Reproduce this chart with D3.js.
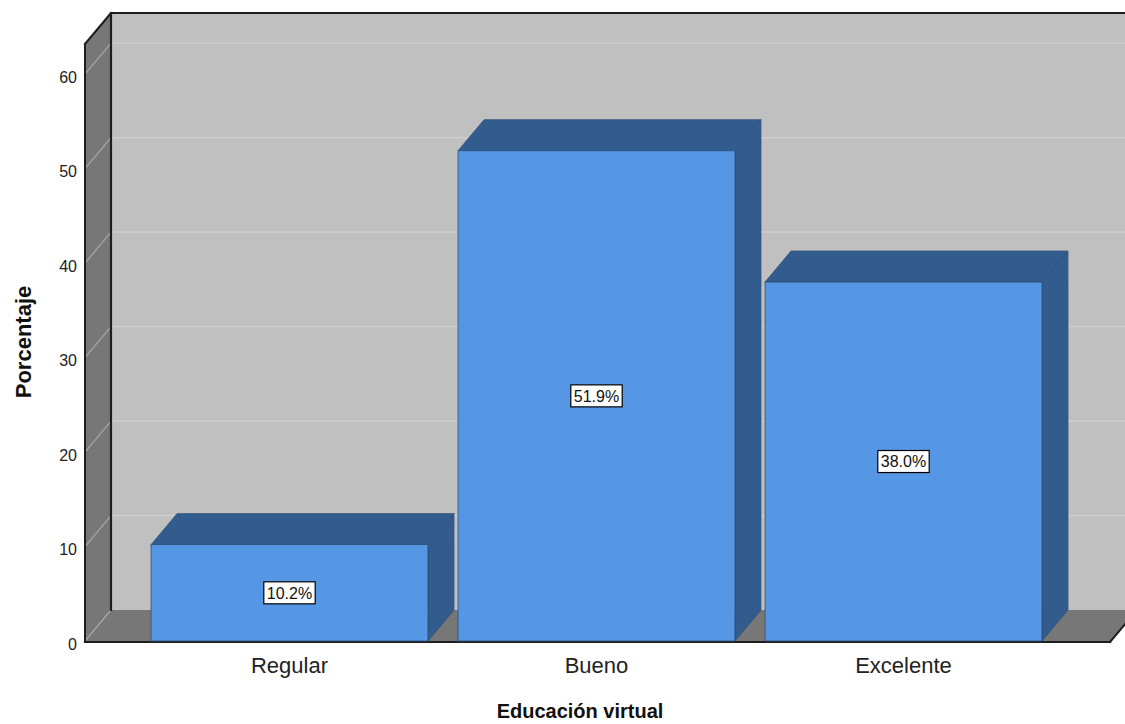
<!DOCTYPE html>
<html>
<head>
<meta charset="utf-8">
<script src="https://cdn.jsdelivr.net/npm/d3@7/dist/d3.min.js"></script>
<style>
  html, body { margin: 0; padding: 0; background: #fff; }
  svg { display: block; font-family: Arial, "Liberation Sans", sans-serif; }
</style>
</head>
<body>
<svg id="chart" width="1125" height="724"></svg>
<script>
// Educación virtual — percentage of respondents per rating
const categories = ["Regular", "Bueno", "Excelente"];
const percentages = [10.2, 51.9, 38.0];
const tickValues = [0, 10, 20, 30, 40, 50, 60];
const axisTitleY = "Porcentaje";
const axisTitleX = "Educación virtual";

const svg = d3.select("#chart");

// front plane of the 3D box, and the depth offset of the back plane
const frontLeft = 85, frontRight = 1110, frontBottom = 641;
const depthX = 26, depthY = -31;

const y = d3.scaleLinear().domain([0, 63.2]).range([frontBottom, 44]);
const x = d3.scaleBand().domain(categories)
  .range([136, 1057]).paddingInner(0.098).paddingOuter(0.049);

const plotTop = y.range()[1];
const backLeft = frontLeft + depthX, backTop = plotTop + depthY, backBottom = frontBottom + depthY;
const backRight = frontRight + depthX;

const pts = a => a.map(p => p.join(",")).join(" ");

// back wall
svg.append("rect")
  .attr("x", backLeft).attr("y", backTop)
  .attr("width", backRight - backLeft).attr("height", backBottom - backTop)
  .attr("fill", "#c0c0c0");

// left side wall
svg.append("polygon")
  .attr("points", pts([[frontLeft, frontBottom], [backLeft, backBottom], [backLeft, backTop], [frontLeft, plotTop]]))
  .attr("fill", "#777777");

// floor
svg.append("polygon")
  .attr("points", pts([[frontLeft, frontBottom], [frontRight, frontBottom], [backRight, backBottom], [backLeft, backBottom]]))
  .attr("fill", "#777777");

// gridlines on back wall and side wall
const grid = svg.append("g");
tickValues.forEach(t => {
  const yy = y(t);
  if (t > 0) {
    grid.append("line")
      .attr("x1", backLeft).attr("x2", backRight)
      .attr("y1", yy + depthY).attr("y2", yy + depthY)
      .attr("stroke", "#d0d0d0").attr("stroke-width", 1.2);
  }
  grid.append("line")
    .attr("x1", frontLeft).attr("y1", yy)
    .attr("x2", backLeft).attr("y2", yy + depthY)
    .attr("stroke", "#a8a8a8").attr("stroke-width", 1.2);
});

// box frame edges
const edge = (x1, y1, x2, y2, w) => svg.append("line")
  .attr("x1", x1).attr("y1", y1).attr("x2", x2).attr("y2", y2)
  .attr("stroke", "#1e1e1e").attr("stroke-width", w).attr("stroke-linecap", "square");
edge(backLeft, backTop, backRight + 40, backTop, 2.2);
edge(backLeft, backTop, backLeft, backBottom, 2.2);
edge(frontLeft, plotTop, backLeft, backTop, 2);
edge(frontLeft, plotTop, frontLeft, frontBottom, 2);
edge(frontLeft, frontBottom + 1, frontRight, frontBottom + 1, 2.2);
edge(frontRight, frontBottom + 1, backRight, backBottom + 1, 2);

// bars
const frontColor = "#5596e5", shadeColor = "#335c8e", outline = "#2f4f78";
const bars = svg.append("g").selectAll("g").data(percentages).join("g");
bars.each(function (v, i) {
  const g = d3.select(this);
  const x0 = x(categories[i]), w = x.bandwidth(), yv = y(v), y0 = y(0);
  g.append("polygon")
    .attr("points", pts([[x0 + w, yv], [x0 + w + depthX, yv + depthY], [x0 + w + depthX, y0 + depthY], [x0 + w, y0]]))
    .attr("fill", shadeColor).attr("stroke", outline).attr("stroke-width", 0.8);
  g.append("polygon")
    .attr("points", pts([[x0, yv], [x0 + depthX, yv + depthY], [x0 + w + depthX, yv + depthY], [x0 + w, yv]]))
    .attr("fill", shadeColor).attr("stroke", outline).attr("stroke-width", 0.8);
  g.append("rect")
    .attr("x", x0).attr("y", yv).attr("width", w).attr("height", y0 - yv)
    .attr("fill", frontColor).attr("stroke", outline).attr("stroke-width", 0.8);

  // value label box at mid-height of the bar
  const cx = x0 + w / 2, cy = y(v / 2);
  const lbl = g.append("g");
  const txt = lbl.append("text")
    .attr("x", cx).attr("y", cy).attr("dy", "0.36em")
    .attr("text-anchor", "middle")
    .attr("font-size", 16).attr("fill", "#111")
    .text(v.toFixed(1) + "%");
  const bb = txt.node().getBBox();
  lbl.insert("rect", "text")
    .attr("x", bb.x - 3).attr("y", cy - 11)
    .attr("width", bb.width + 6).attr("height", 22)
    .attr("fill", "#fff").attr("stroke", "#000").attr("stroke-width", 1.2);
});

// y tick labels
svg.append("g").selectAll("text").data(tickValues).join("text")
  .attr("x", 77).attr("y", d => y(d) + 3).attr("dy", "0.36em")
  .attr("text-anchor", "end").attr("font-size", 16).attr("fill", "#222")
  .text(d => d);

// category labels
svg.append("g").selectAll("text").data(categories).join("text")
  .attr("x", d => x(d) + x.bandwidth() / 2).attr("y", 673)
  .attr("text-anchor", "middle").attr("font-size", 22).attr("fill", "#222")
  .text(d => d);

// axis titles
svg.append("text")
  .attr("x", 580).attr("y", 718)
  .attr("text-anchor", "middle").attr("font-size", 20).attr("font-weight", "bold").attr("fill", "#111")
  .text(axisTitleX);
svg.append("text")
  .attr("transform", "translate(31,342) rotate(-90)")
  .attr("text-anchor", "middle").attr("font-size", 22).attr("font-weight", "bold").attr("fill", "#111")
  .text(axisTitleY);
</script>
</body>
</html>
